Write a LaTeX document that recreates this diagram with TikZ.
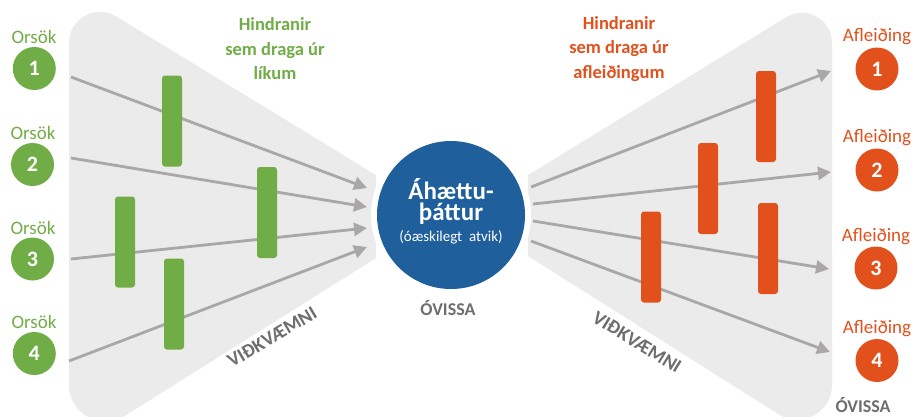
\documentclass[tikz,border=0pt]{standalone}
\usepackage{fontspec}
\setmainfont{Carlito}
\usetikzlibrary{arrows.meta}
\definecolor{grn}{HTML}{70AD47}
\definecolor{org}{HTML}{E2511C}
\definecolor{blu}{HTML}{1F5F9B}
\definecolor{bgshape}{HTML}{EBEBEB}
\definecolor{arr}{HTML}{A9A7A7}
\definecolor{txtgray}{HTML}{6E6E6E}
\begin{document}
\begin{tikzpicture}[x=1pt,y=-1pt,
  num/.style={circle, minimum size=43pt, inner sep=0pt, text=white, font=\bfseries\fontsize{22}{22}\selectfont},
  gnum/.style={num, fill=grn},
  onum/.style={num, fill=org},
  lab/.style={inner sep=0pt, font=\fontsize{19}{20}\selectfont},
  glab/.style={lab, text=grn},
  olab/.style={lab, text=org},
  bar/.style={minimum width=20pt, minimum height=91pt, rounded corners=3pt, inner sep=0pt},
  gbar/.style={bar, fill=grn},
  obar/.style={bar, fill=org},
  flow/.style={draw=arr, line width=2.8pt, -{Triangle[length=13pt,width=13pt]}},
  head/.style={inner sep=0pt, align=center, font=\bfseries\fontsize{18.5}{24.5}\selectfont},
  gtxt/.style={inner sep=0pt, text=txtgray, font=\bfseries\fontsize{18}{18}\selectfont},
  vtxt/.style={inner sep=0pt, text=txtgray, font=\bfseries\fontsize{19.5}{20}\selectfont}
]
\useasboundingbox (0,0) rectangle (916,416);
\begin{scope}
\clip (0,0) rectangle (916,416);
% left gray funnel
\fill[bgshape] (376,175) -- (116.3,16.5) .. controls (95.5,3.8) and (69,18.7) .. (69,43)
  -- (69,385) .. controls (69,413.7) and (100.6,431.2) .. (124.9,415.9) -- (376,258) -- cycle;
% right gray funnel
\fill[bgshape] (528,175) -- (786.2,17.3) .. controls (806.2,5.0) and (832,19.5) .. (832,43)
  -- (832,385) .. controls (832,412.3) and (801.9,429) .. (778.8,414.4) -- (528,256) -- cycle;
\end{scope}

% arrow end points
\coordinate (s1) at (71,77);   \coordinate (e1) at (367,188);
\coordinate (s2) at (71,158);  \coordinate (e2) at (367,207);
\coordinate (s3) at (71,259);  \coordinate (e3) at (367,228);
\coordinate (s4) at (69,361);  \coordinate (e4) at (367,247);
\coordinate (r1) at (531,187); \coordinate (f1) at (831,71);
\coordinate (r2) at (533,204); \coordinate (f2) at (831,172);
\coordinate (r3) at (533,221); \coordinate (f3) at (829,269);
\coordinate (r4) at (531,241); \coordinate (f4) at (830,352);

\draw[flow] (s1) -- (e1);
\draw[flow] (s2) -- (e2);
\draw[flow] (s3) -- (e3);
\draw[flow] (s4) -- (e4);
\draw[flow] (r1) -- (f1);
\draw[flow] (r2) -- (f2);
\draw[flow] (r3) -- (f3);
\draw[flow] (r4) -- (f4);

% barriers
\node[gbar] (ba) at (172,121) {};
\node[gbar] (bb) at (267,212.5) {};
\node[gbar] (bc) at (125,242) {};
\node[gbar] (bd) at (174,304) {};
\node[obar] (be) at (766,116.5) {};
\node[obar] (bf) at (708,188.5) {};
\node[obar] (bg) at (651,257) {};
\node[obar] (bh) at (768,248.5) {};

% central event
\node[circle, fill=white, minimum size=160pt, inner sep=0pt] (ring) at (451,215) {};
\node[circle, fill=blu, minimum size=148pt, inner sep=0pt] (evt) at (451,215) {};
\node[inner sep=0pt, text=white, font=\bfseries\fontsize{25}{26}\selectfont] (t1) at (451,189) {Áhættu-};
\node[inner sep=0pt, text=white, font=\bfseries\fontsize{25}{26}\selectfont] (t2) at (451,214) {þáttur};
\node[inner sep=0pt, text=white, font=\fontsize{15}{16}\selectfont] (t3) at (451,237) {(óæskilegt\hspace{0.45em}atvik)};

% causes
\node[glab] (l1) at (34,37) {Orsök};
\node[glab] (l2) at (33,133) {Orsök};
\node[glab] (l3) at (33,228) {Orsök};
\node[glab] (l4) at (34,322) {Orsök};
\node[gnum] (c1) at (34.3,68.5) {1};
\node[gnum] (c2) at (32.5,164.5) {2};
\node[gnum] (c3) at (32.5,259) {3};
\node[gnum] (c4) at (34.3,353.5) {4};

% consequences
\node[olab] (m1) at (877,37) {Afleiðing};
\node[olab] (m2) at (877,138) {Afleiðing};
\node[olab] (m3) at (876,237) {Afleiðing};
\node[olab] (m4) at (877,329) {Afleiðing};
\node[onum] (o1) at (877,69) {1};
\node[onum] (o2) at (877,170) {2};
\node[onum] (o3) at (876,268) {3};
\node[onum] (o4) at (877,360.5) {4};

% headings
\node[head, text=grn] (hl) at (275,49) {Hindranir\\sem draga úr\\líkum};
\node[head, text=org] (hr) at (619,49) {Hindranir\\sem draga úr\\afleiðingum};

% gray labels
\node[gtxt] (u1) at (448,308) {ÓVISSA};
\node[gtxt] (u2) at (863,405) {ÓVISSA};
\node[vtxt, rotate=30.6] (v1) at (272,337) {VIÐKVÆMNI};
\node[vtxt, rotate=-31.6] (v2) at (637,342) {VIÐKVÆMNI};
\end{tikzpicture}
\end{document}
